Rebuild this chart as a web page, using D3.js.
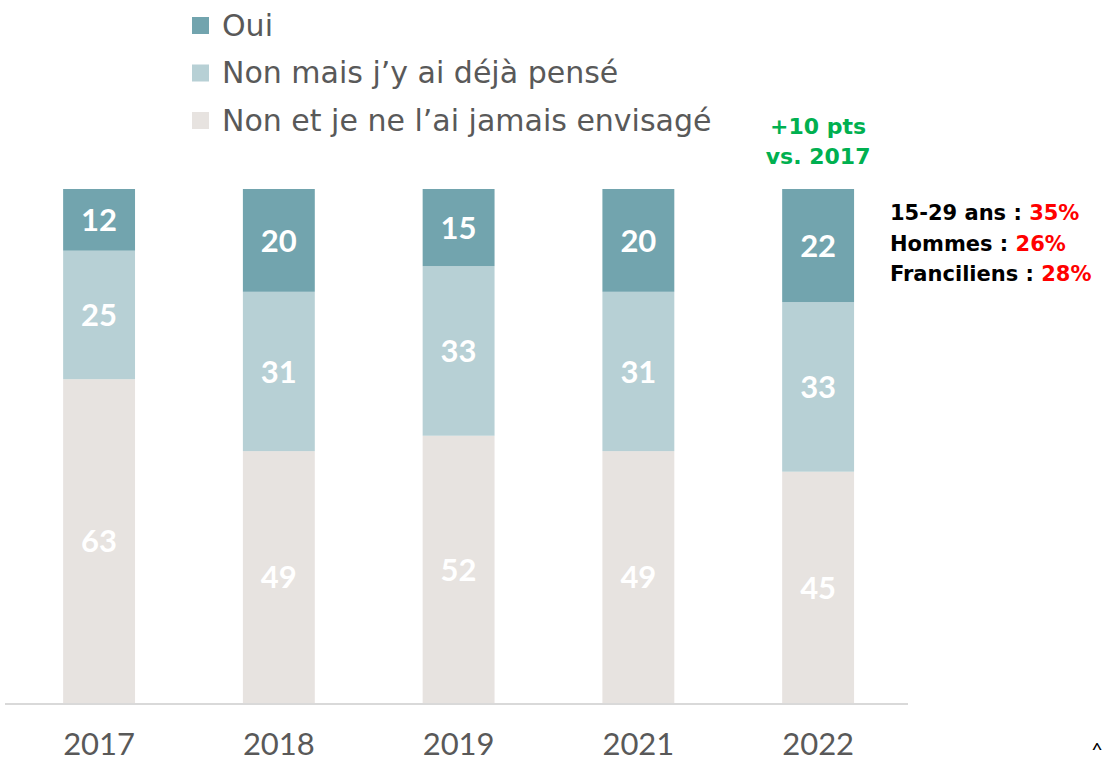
<!DOCTYPE html>
<html><head><meta charset="utf-8">
<script src="https://cdn.jsdelivr.net/npm/d3@7"></script>
<style>body{margin:0;background:#fff}svg{display:block}</style>
</head><body>
<svg id="c" width="1107" height="762"></svg>
<script>
const years = ["2017","2018","2019","2021","2022"];
const oui = [12,20,15,20,22];
const nonPense = [25,31,33,31,33];
const nonJamais = [63,49,52,49,45];
const seriesNames = ["Oui","Non mais j’y ai déjà pensé","Non et je ne l’ai jamais envisagé"];
const colors = ["#72A4AE","#B7D0D5","#E7E3E0"];
const subgroups = [["15-29 ans : ","35%"],["Hommes : ","26%"],["Franciliens : ","28%"]];

const svg = d3.select("#c");
const fontMain = "'Lato','Noto Sans',sans-serif";
const fontWide = "'DejaVu Sans',sans-serif";
const x = d3.scaleBand().domain(years).range([9.2,908]).paddingInner(0.6).paddingOuter(0.3);
const y = d3.scaleLinear().domain([0,100]).range([703,189]);

const rows = years.map((yr,i)=>({year:yr,oui:oui[i],pense:nonPense[i],jamais:nonJamais[i]}));
const stack = d3.stack().keys(["jamais","pense","oui"])(rows);
const colorOf = {oui:colors[0],pense:colors[1],jamais:colors[2]};

const g = svg.append("g");
stack.forEach(layer=>{
  g.selectAll(null).data(layer).enter().append("rect")
    .attr("x",d=>x(d.data.year)).attr("width",x.bandwidth())
    .attr("y",d=>y(d[1])).attr("height",d=>y(d[0])-y(d[1]))
    .attr("fill",colorOf[layer.key]);
  g.selectAll(null).data(layer).enter().append("text")
    .attr("x",d=>x(d.data.year)+x.bandwidth()/2)
    .attr("y",d=>(y(d[0])+y(d[1]))/2)
    .attr("dy","0.36em").attr("text-anchor","middle")
    .attr("fill","#fff").attr("font-family",fontMain).attr("font-weight","bold")
    .attr("font-size",31).text(d=>d.data[layer.key]);
});

// axis
const axis = svg.append("g").attr("transform","translate(0,704)")
  .call(d3.axisBottom(x).tickSize(0).tickPadding(0));
axis.select(".domain").attr("d","M5,0H908").attr("stroke","#D9D9D9").attr("stroke-width",2);
axis.selectAll(".tick text").attr("y",51).attr("dy",0).attr("font-size",31)
  .attr("font-family",fontMain).attr("fill","#595959");

// legend
const leg = svg.append("g");
seriesNames.forEach((n,i)=>{
  const cy = 25 + i*47.5;
  leg.append("rect").attr("x",192).attr("y",cy-8).attr("width",17).attr("height",17).attr("fill",colors[i]);
  leg.append("text").attr("x",222).attr("y",cy).attr("dy","0.36em").attr("font-size",30)
    .attr("font-family",fontWide).attr("fill","#595959").text(n);
});

// annotation
const ann = svg.append("text").attr("text-anchor","middle").attr("font-family",fontWide)
  .attr("font-weight","bold").attr("font-size",22).attr("fill","#00B050");
ann.append("tspan").attr("x",x("2022")+x.bandwidth()/2).attr("y",134).text("+10 pts");
ann.append("tspan").attr("x",x("2022")+x.bandwidth()/2).attr("y",164).text("vs. 2017");

// subgroups
subgroups.forEach((s,i)=>{
  const t = svg.append("text").attr("x",890).attr("y",220+i*30.5).attr("font-family",fontWide)
    .attr("font-weight","bold").attr("font-size",21);
  t.append("tspan").attr("fill","#000").text(s[0]);
  t.append("tspan").attr("fill","#FF0000").text(s[1]);
});

svg.append("text").attr("x",1097).attr("y",757).attr("text-anchor","middle")
  .attr("font-family",fontMain).attr("font-size",20).attr("fill","#000").text("^");
</script>
</body></html>
